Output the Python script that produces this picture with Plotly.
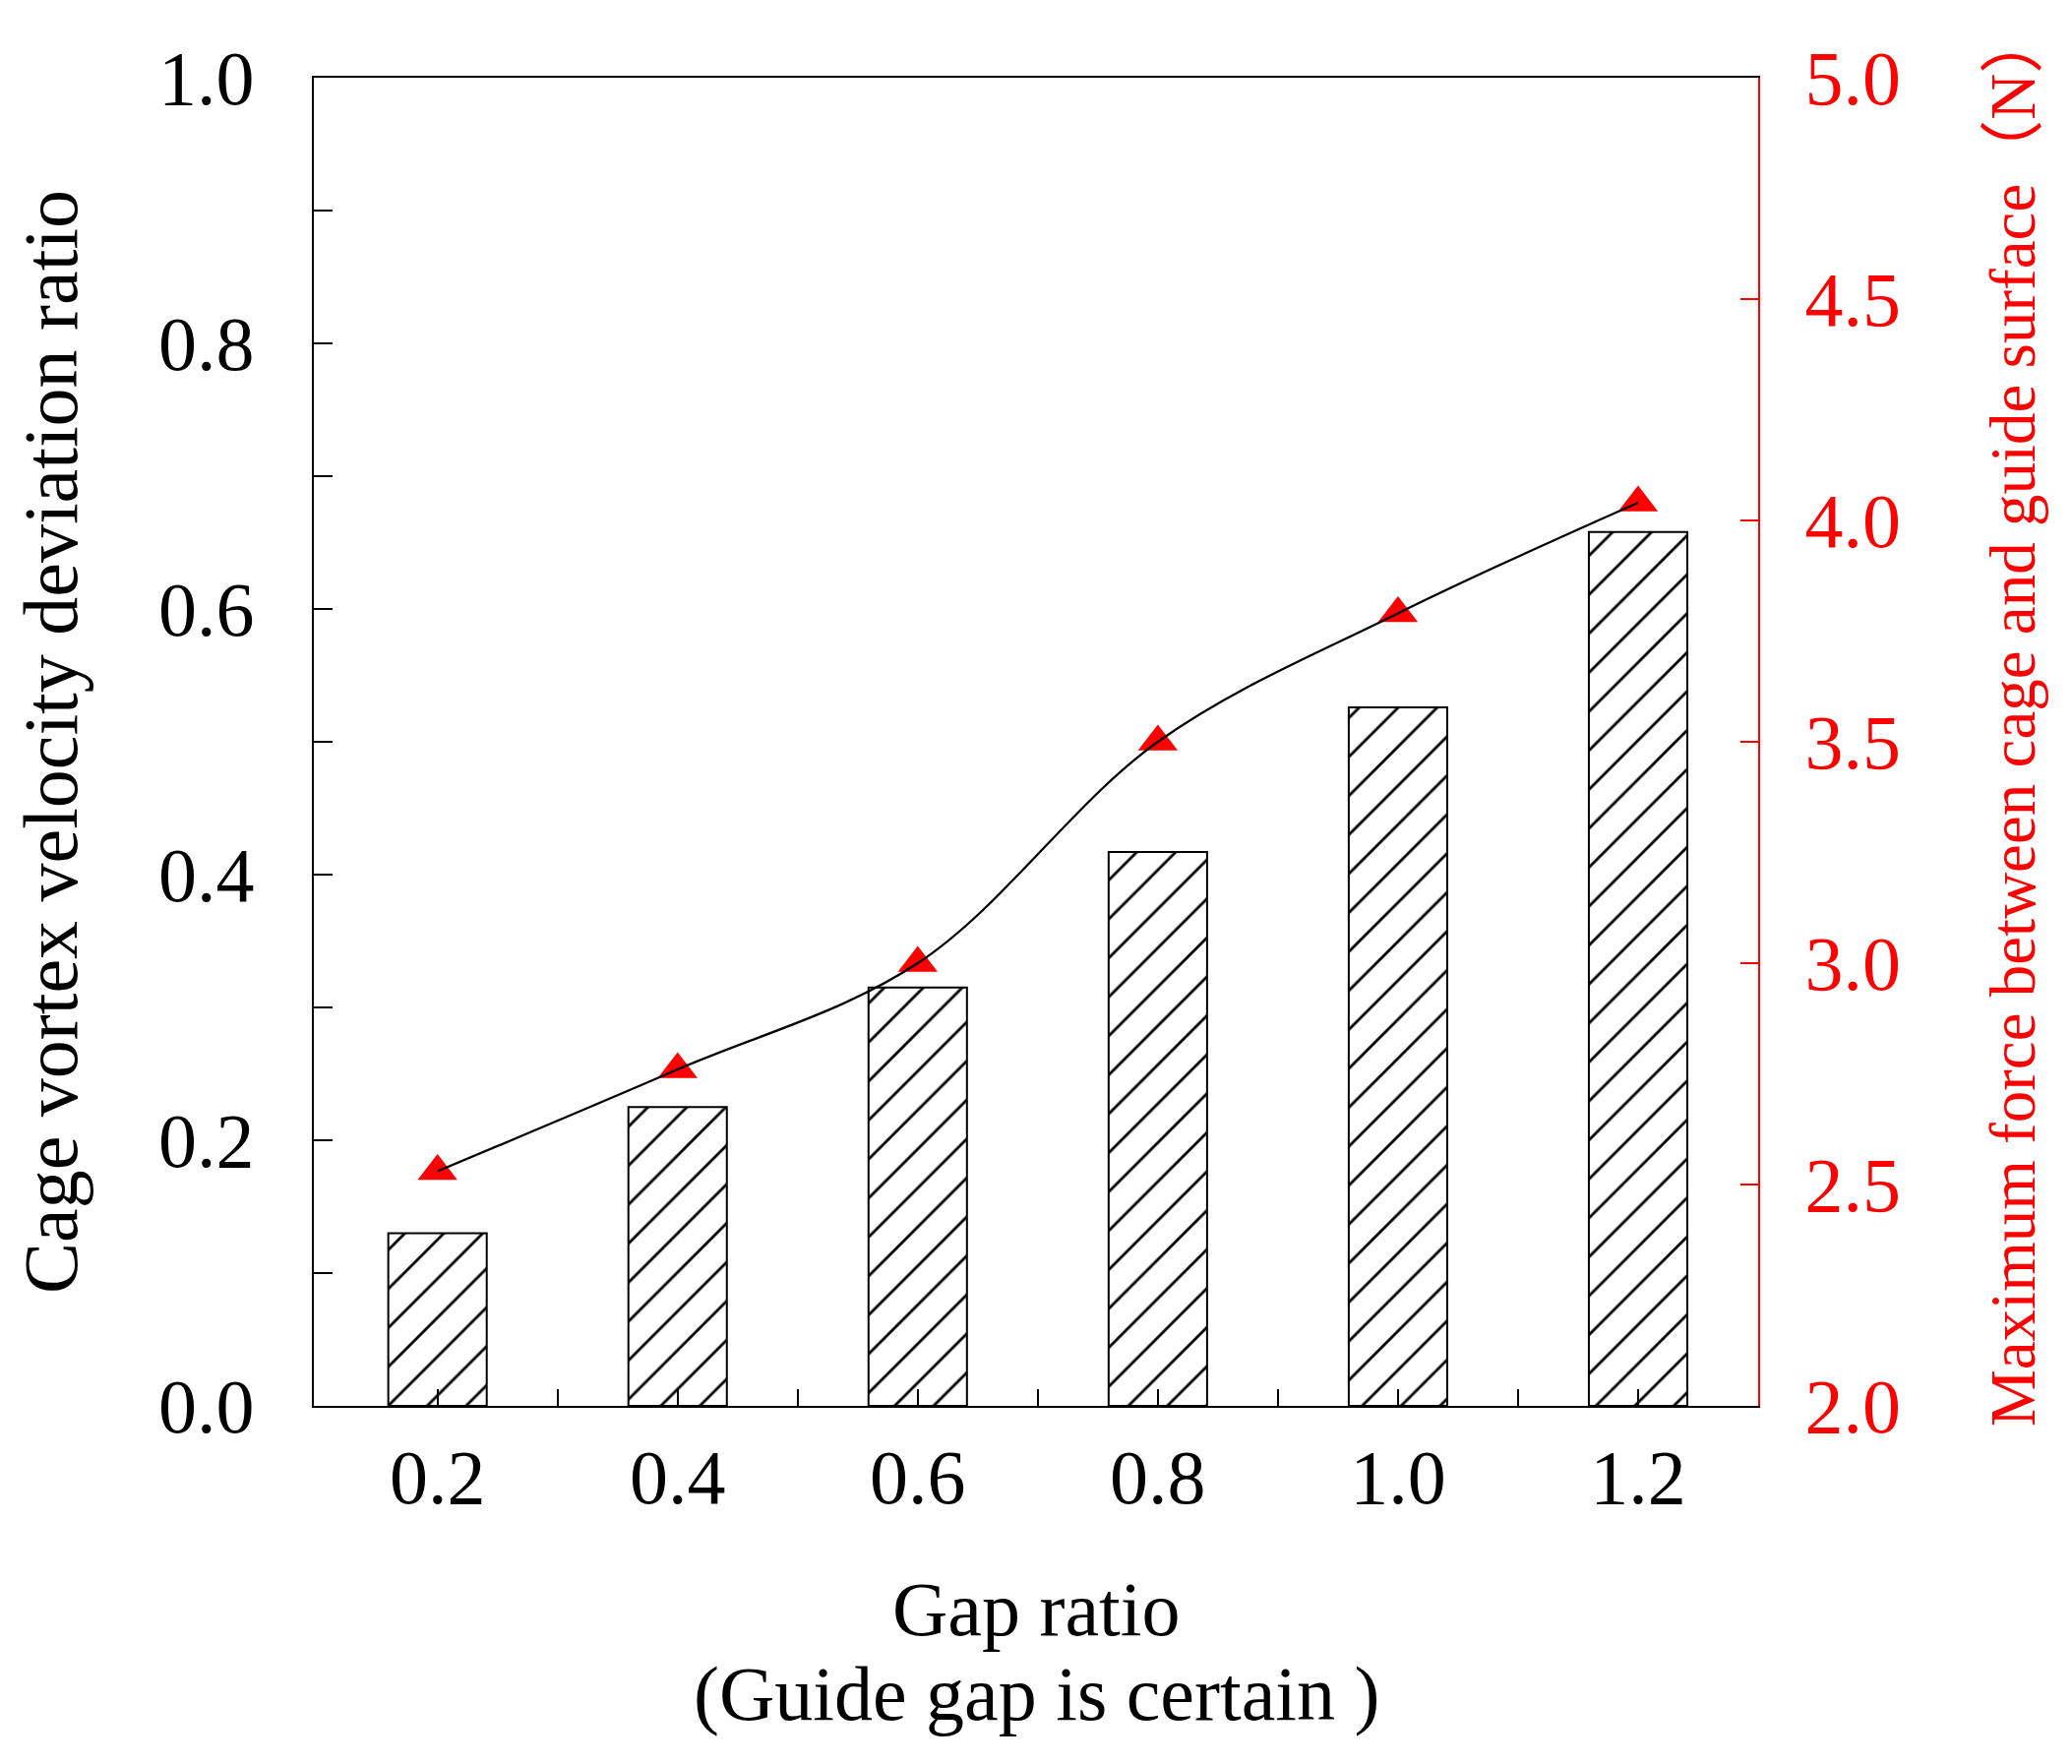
import plotly.graph_objects as go

gap_ratio = [0.2, 0.4, 0.6, 0.8, 1.0, 1.2]
deviation_ratio = [0.13, 0.225, 0.315, 0.417, 0.526, 0.658]
max_force = [2.53, 2.76, 3.00, 3.50, 3.79, 4.04]
x_minor_ticks = [0.3, 0.5, 0.7, 0.9, 1.1]

left_title = "Cage vortex velocity deviation ratio"
right_title = "Maximum force between cage and guide surface（N）"
x_title_1 = "Gap ratio"
x_title_2 = "(Guide gap is certain )"

FONT = "Liberation Serif, Times New Roman, Noto Sans CJK SC, serif"
RED = "#ff0000"

fig = go.Figure()

fig.add_trace(go.Bar(
    x=gap_ratio, y=deviation_ratio, width=0.082,
    marker=dict(color="white", line=dict(color="black", width=2),
                pattern=dict(shape="/", size=28, solidity=0.1, fgopacity=1,
                             fgcolor="black", bgcolor="white")),
    showlegend=False,
))
fig.add_trace(go.Scatter(
    x=gap_ratio, y=max_force, yaxis="y2", mode="markers",
    marker=dict(symbol="triangle-up", size=35, color=RED),
    showlegend=False,
))
fig.add_trace(go.Scatter(
    x=gap_ratio, y=max_force, yaxis="y2", mode="lines",
    line=dict(color="black", width=2.3, shape="spline"),
    showlegend=False,
))

fig.update_layout(
    width=2098, height=1785,
    margin=dict(l=311, r=319, t=71, b=364),
    paper_bgcolor="white", plot_bgcolor="white",
    font=dict(family=FONT, size=78, color="black"),
    xaxis=dict(
        range=[0.097, 1.3], tick0=0, dtick=0.2, tickformat=".1f",
        ticks="inside", ticklen=17, tickwidth=2, tickcolor="black",
        showline=True, linecolor="black", linewidth=2, mirror=True,
        showgrid=False, zeroline=False, ticklabelstandoff=3, automargin=False,
        minor=dict(tickvals=x_minor_ticks, ticks="inside", ticklen=17,
                   tickwidth=2, tickcolor="black", showgrid=False),
        tickfont=dict(size=78, family=FONT, color="black"),
    ),
    yaxis=dict(
        range=[0, 1], dtick=0.2, tickformat=".1f",
        ticks="inside", ticklen=19, tickwidth=2, tickcolor="black",
        showline=True, linecolor="black", linewidth=2,
        showgrid=False, zeroline=False, ticklabelstandoff=43,
        automargin=False,
        minor=dict(dtick=0.1, ticks="inside", ticklen=19, tickwidth=2,
                   tickcolor="black", showgrid=False),
        tickfont=dict(size=78, family=FONT, color="black"),
        title=dict(text=left_title, font=dict(size=78, family=FONT, color="black"),
                   standoff=68),
    ),
    yaxis2=dict(
        range=[2, 5], dtick=0.5, tickformat=".1f", overlaying="y", side="right",
        ticks="inside", ticklen=18, tickwidth=2, tickcolor=RED,
        showline=True, linecolor=RED, linewidth=2,
        showgrid=False, zeroline=False, ticklabelstandoff=30,
        automargin=False,
        tickfont=dict(size=78, family=FONT, color=RED),
    ),
    annotations=[
        dict(text=x_title_1, xref="paper", yref="paper", x=0.5, y=-0.1533,
             xanchor="center", yanchor="middle", showarrow=False,
             font=dict(size=78, family=FONT, color="black")),
        dict(text=x_title_2, xref="paper", yref="paper", x=0.5, y=-0.217,
             xanchor="center", yanchor="middle", showarrow=False,
             font=dict(size=78, family=FONT, color="black")),
        dict(text=right_title, xref="paper", yref="paper", x=1.176, y=0.518,
             xanchor="center", yanchor="middle", textangle=-90, showarrow=False,
             font=dict(size=65, family=FONT, color=RED)),
    ],
)

fig.write_html("out.html")
